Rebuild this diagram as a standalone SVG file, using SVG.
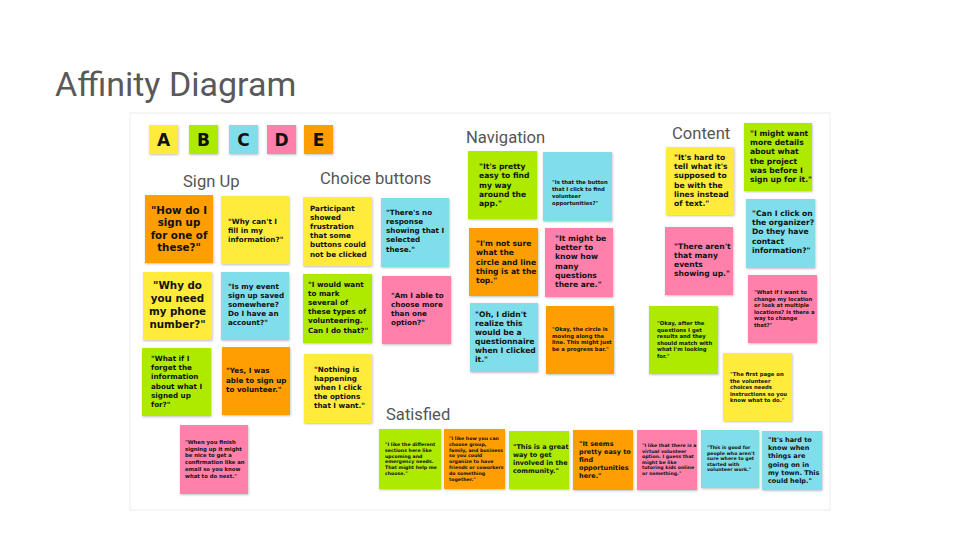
<svg xmlns="http://www.w3.org/2000/svg" width="960" height="540" viewBox="0 0 960 540">
<style>
.y{fill:#FFEB3B}.g{fill:#AEEA00}.c{fill:#80DEEA}.p{fill:#FF80AB}.o{fill:#FF9E00}
.n rect{filter:url(#sh)}
.t{font-family:"DejaVu Sans",sans-serif;font-weight:bold;fill:#111}
.L{font-size:10.3px;text-anchor:middle}
.M{font-size:7.2px}
.M2{font-size:7.6px}
.S{font-size:5.3px}
.X{font-size:4.7px}
.B{font-size:6.5px}
.h{font-family:Roboto,"Liberation Sans",sans-serif;fill:#555;font-size:16.6px}
.k{font-family:"DejaVu Sans",sans-serif;font-weight:bold;font-size:17px;fill:#111;text-anchor:middle}
</style>
<defs>
<filter id="sh" x="-10%" y="-10%" width="125%" height="125%">
<feDropShadow dx="0.6" dy="1" stdDeviation="0.8" flood-color="#000" flood-opacity="0.25"/>
</filter>
</defs>
<rect width="960" height="540" fill="#fff"/>
<text x="55" y="96" font-family="Roboto,'Liberation Sans',sans-serif" font-size="34" fill="#595959">Affinity Diagram</text>
<rect x="130" y="113" width="700" height="397" fill="#fff" stroke="#ececec" stroke-width="1"/>

<g id="letters">
<g id="key-a" class="n"><rect class="y" x="149" y="125" width="29" height="29"/><text class="k" x="163.5" y="146">A</text></g>
<g id="key-b" class="n"><rect class="g" x="189" y="125" width="29" height="29"/><text class="k" x="203.5" y="146">B</text></g>
<g id="key-c" class="n"><rect class="c" x="229" y="125" width="29" height="29"/><text class="k" x="243.5" y="146">C</text></g>
<g id="key-d" class="n"><rect class="p" x="267" y="125" width="29" height="29"/><text class="k" x="281.5" y="146">D</text></g>
<g id="key-e" class="n"><rect class="o" x="304" y="125" width="29" height="29"/><text class="k" x="318.5" y="146">E</text></g>
</g>

<g id="headings">
<text class="h" x="183" y="187">Sign Up</text>
<text class="h" x="320" y="184">Choice buttons</text>
<text class="h" x="466" y="143">Navigation</text>
<text class="h" x="672" y="139">Content</text>
<text class="h" x="386" y="420">Satisfied</text>
</g>

<g id="connectors"></g>

<!-- Sign Up -->
<g id="su1" class="n"><rect class="o" x="145" y="195" width="68" height="68"/>
<text class="t L"><tspan x="179" y="213.5">"How do I</tspan><tspan x="179" y="226">sign up</tspan><tspan x="179" y="238.5">for one of</tspan><tspan x="179" y="251">these?"</tspan></text></g>
<g id="su2" class="n"><rect class="y" x="221" y="196" width="68" height="68"/>
<text class="t M"><tspan x="228" y="224">"Why can't I</tspan><tspan x="228" y="233">fill in my</tspan><tspan x="228" y="242">information?"</tspan></text></g>
<g id="su3" class="n"><rect class="y" x="143" y="272" width="69" height="68"/>
<text class="t L"><tspan x="177.5" y="289">"Why do</tspan><tspan x="177.5" y="302">you need</tspan><tspan x="177.5" y="315">my phone</tspan><tspan x="177.5" y="328">number?"</tspan></text></g>
<g id="su4" class="n"><rect class="c" x="221" y="272" width="68" height="68"/>
<text class="t M"><tspan x="228" y="289">"Is my event</tspan><tspan x="228" y="298">sign up saved</tspan><tspan x="228" y="307">somewhere?</tspan><tspan x="228" y="316">Do I have an</tspan><tspan x="228" y="325">account?"</tspan></text></g>
<g id="su5" class="n"><rect class="g" x="142" y="348" width="69" height="68"/>
<text class="t M"><tspan x="151" y="361">"What if I</tspan><tspan x="151" y="370">forget the</tspan><tspan x="151" y="379">information</tspan><tspan x="151" y="388.5">about what I</tspan><tspan x="151" y="397.5">signed up</tspan><tspan x="151" y="407">for?"</tspan></text></g>
<g id="su6" class="n"><rect class="o" x="222" y="347" width="68" height="68"/>
<text class="t M"><tspan x="226" y="373">"Yes, I was</tspan><tspan x="226" y="382.5">able to sign up</tspan><tspan x="226" y="392">to volunteer."</tspan></text></g>
<g id="su7" class="n"><rect class="p" x="180" y="425" width="68" height="69"/>
<text class="t S"><tspan x="185" y="444">"When you finish</tspan><tspan x="185" y="450.7">signing up it might</tspan><tspan x="185" y="457.4">be nice to get a</tspan><tspan x="185" y="464.1">confirmation like an</tspan><tspan x="185" y="470.8">email so you know</tspan><tspan x="185" y="477.5">what to do next."</tspan></text></g>

<!-- Choice buttons -->
<g id="cb1" class="n"><rect class="y" x="303" y="197" width="69" height="69"/>
<text class="t M"><tspan x="310" y="211">Participant</tspan><tspan x="310" y="220">showed</tspan><tspan x="310" y="229">frustration</tspan><tspan x="310" y="238">that some</tspan><tspan x="310" y="247">buttons could</tspan><tspan x="310" y="256.5">not be clicked</tspan></text></g>
<g id="cb2" class="n"><rect class="c" x="381" y="198" width="68" height="69"/>
<text class="t M"><tspan x="386" y="215">"There's no</tspan><tspan x="386" y="224">response</tspan><tspan x="386" y="233">showing that I</tspan><tspan x="386" y="242">selected</tspan><tspan x="386" y="251.5">these."</tspan></text></g>
<g id="cb3" class="n"><rect class="g" x="303" y="274" width="69" height="69"/>
<text class="t M"><tspan x="308" y="287">"I would want</tspan><tspan x="308" y="296">to mark</tspan><tspan x="308" y="305">several of</tspan><tspan x="308" y="314">these types of</tspan><tspan x="308" y="323">volunteering.</tspan><tspan x="308" y="332.5">Can I do that?"</tspan></text></g>
<g id="cb4" class="n"><rect class="p" x="382" y="276" width="69" height="68"/>
<text class="t M"><tspan x="391" y="298">"Am I able to</tspan><tspan x="391" y="307">choose more</tspan><tspan x="391" y="316">than one</tspan><tspan x="391" y="325">option?"</tspan></text></g>
<g id="cb5" class="n"><rect class="y" x="304" y="354" width="68" height="69"/>
<text class="t M"><tspan x="314" y="372">"Nothing is</tspan><tspan x="314" y="381">happening</tspan><tspan x="314" y="390">when I click</tspan><tspan x="314" y="399">the options</tspan><tspan x="314" y="408">that I want."</tspan></text></g>

<!-- Navigation -->
<g id="nv1" class="n"><rect class="g" x="468" y="151" width="69" height="68"/>
<text class="t M2"><tspan x="479" y="169">"It's pretty</tspan><tspan x="479" y="178.3">easy to find</tspan><tspan x="479" y="187.6">my way</tspan><tspan x="479" y="196.9">around the</tspan><tspan x="479" y="206.2">app."</tspan></text></g>
<g id="nv2" class="n"><rect class="c" x="543" y="152" width="69" height="69"/>
<text class="t S"><tspan x="552" y="184">"Is that the button</tspan><tspan x="552" y="191">that I click to find</tspan><tspan x="552" y="198">volunteer</tspan><tspan x="552" y="205">opportunities?"</tspan></text></g>
<g id="nv3" class="n"><rect class="o" x="469" y="228" width="69" height="68"/>
<text class="t M2"><tspan x="476" y="246">"I'm not sure</tspan><tspan x="476" y="255.3">what the</tspan><tspan x="476" y="264.6">circle and line</tspan><tspan x="476" y="273.9">thing is at the</tspan><tspan x="476" y="283.2">top."</tspan></text></g>
<g id="nv4" class="n"><rect class="p" x="545" y="228" width="68" height="69"/>
<text class="t M2"><tspan x="555" y="241">"It might be</tspan><tspan x="555" y="250.2">better to</tspan><tspan x="555" y="259.4">know how</tspan><tspan x="555" y="268.6">many</tspan><tspan x="555" y="277.8">questions</tspan><tspan x="555" y="287">there are."</tspan></text></g>
<g id="nv5" class="n"><rect class="c" x="470" y="303" width="68" height="69"/>
<text class="t M2"><tspan x="475" y="317">"Oh, I didn't</tspan><tspan x="475" y="326">realize this</tspan><tspan x="475" y="335">would be a</tspan><tspan x="475" y="344">questionnaire</tspan><tspan x="475" y="353">when I clicked</tspan><tspan x="475" y="362">it."</tspan></text></g>
<g id="nv6" class="n"><rect class="o" x="546" y="306" width="68" height="68"/>
<text class="t S"><tspan x="552" y="331">"Okay, the circle is</tspan><tspan x="552" y="337.7">moving along the</tspan><tspan x="552" y="344.4">line. This might just</tspan><tspan x="552" y="351.1">be a progress bar."</tspan></text></g>

<!-- Content -->
<g id="ct1" class="n"><rect class="y" x="666" y="147" width="68" height="68"/>
<text class="t M2"><tspan x="674" y="160">"It's hard to</tspan><tspan x="674" y="169.2">tell what it's</tspan><tspan x="674" y="178.4">supposed to</tspan><tspan x="674" y="187.6">be with the</tspan><tspan x="674" y="196.8">lines instead</tspan><tspan x="674" y="206">of text."</tspan></text></g>
<g id="ct2" class="n"><rect class="g" x="744" y="123" width="68" height="68"/>
<text class="t M2"><tspan x="750" y="136">"I might want</tspan><tspan x="750" y="145.2">more details</tspan><tspan x="750" y="154.4">about what</tspan><tspan x="750" y="163.6">the project</tspan><tspan x="750" y="172.8">was before I</tspan><tspan x="750" y="182">sign up for it."</tspan></text></g>
<g id="ct3" class="n"><rect class="c" x="746" y="199" width="69" height="69"/>
<text class="t M2"><tspan x="752" y="216">"Can I click on</tspan><tspan x="752" y="225.2">the organizer?</tspan><tspan x="752" y="234.4">Do they have</tspan><tspan x="752" y="243.6">contact</tspan><tspan x="752" y="252.8">information?"</tspan></text></g>
<g id="ct4" class="n"><rect class="p" x="665" y="227" width="68" height="68"/>
<text class="t M2"><tspan x="674" y="249">"There aren't</tspan><tspan x="674" y="258">that many</tspan><tspan x="674" y="267">events</tspan><tspan x="674" y="276">showing up."</tspan></text></g>
<g id="ct5" class="n"><rect class="p" x="748" y="275" width="69" height="68"/>
<text class="t S"><tspan x="754" y="294">"What if I want to</tspan><tspan x="754" y="300.6">change my location</tspan><tspan x="754" y="307.2">or look at multiple</tspan><tspan x="754" y="313.8">locations? Is there a</tspan><tspan x="754" y="320.4">way to change</tspan><tspan x="754" y="327">that?"</tspan></text></g>
<g id="ct6" class="n"><rect class="g" x="649" y="306" width="69" height="68"/>
<text class="t S"><tspan x="657" y="325">"Okay, after the</tspan><tspan x="657" y="331.6">questions I get</tspan><tspan x="657" y="338.2">results and they</tspan><tspan x="657" y="344.8">should match with</tspan><tspan x="657" y="351.4">what I'm looking</tspan><tspan x="657" y="358">for."</tspan></text></g>
<g id="ct7" class="n"><rect class="y" x="723" y="353" width="69" height="68"/>
<text class="t S"><tspan x="730" y="376">"The first page on</tspan><tspan x="730" y="382.6">the volunteer</tspan><tspan x="730" y="389.2">choices needs</tspan><tspan x="730" y="395.8">instructions so you</tspan><tspan x="730" y="402.4">know what to do."</tspan></text></g>

<!-- Satisfied -->
<g id="sa1" class="n"><rect class="g" x="379" y="429" width="62" height="60"/>
<text class="t X"><tspan x="385" y="446">"I like the different</tspan><tspan x="385" y="451.8">sections here like</tspan><tspan x="385" y="457.6">upcoming and</tspan><tspan x="385" y="463.4">emergency needs.</tspan><tspan x="385" y="469.2">That might help me</tspan><tspan x="385" y="475">choose."</tspan></text></g>
<g id="sa2" class="n"><rect class="o" x="444" y="429" width="61" height="60"/>
<text class="t X"><tspan x="449" y="440">"I like how you can</tspan><tspan x="449" y="445.8">choose group,</tspan><tspan x="449" y="451.6">family, and business</tspan><tspan x="449" y="457.4">so you could</tspan><tspan x="449" y="463.2">organize to have</tspan><tspan x="449" y="469">friends or coworkers</tspan><tspan x="449" y="474.8">do something</tspan><tspan x="449" y="480.6">together."</tspan></text></g>
<g id="sa3" class="n"><rect class="g" x="509" y="431" width="60" height="58"/>
<text class="t B"><tspan x="513" y="449">"This is a great</tspan><tspan x="513" y="457">way to get</tspan><tspan x="513" y="465">involved in the</tspan><tspan x="513" y="473">community."</tspan></text></g>
<g id="sa4" class="n"><rect class="o" x="573" y="430" width="60" height="60"/>
<text class="t B"><tspan x="579" y="446">"It seems</tspan><tspan x="579" y="454">pretty easy to</tspan><tspan x="579" y="462">find</tspan><tspan x="579" y="470">opportunities</tspan><tspan x="579" y="478">here."</tspan></text></g>
<g id="sa5" class="n"><rect class="p" x="637" y="430" width="60" height="60"/>
<text class="t X"><tspan x="642" y="447">"I like that there is a</tspan><tspan x="642" y="452.6">virtual volunteer</tspan><tspan x="642" y="458.2">option. I guess that</tspan><tspan x="642" y="463.8">might be like</tspan><tspan x="642" y="469.4">tutoring kids online</tspan><tspan x="642" y="475">or something."</tspan></text></g>
<g id="sa6" class="n"><rect class="c" x="701" y="430" width="58" height="58"/>
<text class="t X"><tspan x="707" y="449">"This is good for</tspan><tspan x="707" y="454.5">people who aren't</tspan><tspan x="707" y="460">sure where to get</tspan><tspan x="707" y="465.5">started with</tspan><tspan x="707" y="471">volunteer work."</tspan></text></g>
<g id="sa7" class="n"><rect class="c" x="762" y="431" width="60" height="59"/>
<text class="t B"><tspan x="768" y="442">"It's hard to</tspan><tspan x="768" y="450.2">know when</tspan><tspan x="768" y="458.4">things are</tspan><tspan x="768" y="466.6">going on in</tspan><tspan x="768" y="474.8">my town. This</tspan><tspan x="768" y="483">could help."</tspan></text></g>
</svg>
